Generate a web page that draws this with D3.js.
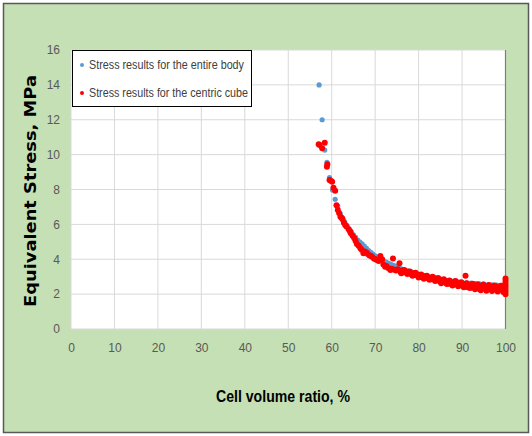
<!DOCTYPE html>
<html>
<head>
<meta charset="utf-8">
<script src="https://cdn.jsdelivr.net/npm/d3@7"></script>
<style>
  body { margin: 0; background: #fff; }
  svg { display: block; }
</style>
</head>
<body>
<svg id="chart" width="532" height="436"></svg>
<script>
// tick values
var xTicks = [0, 10, 20, 30, 40, 50, 60, 70, 80, 90, 100];
var yTicks = [0, 2, 4, 6, 8, 10, 12, 14, 16];

var seriesNames = ['Stress results for the entire body', 'Stress results for the centric cube'];

// entire body (blue)
var bodyX = [57.1, 57.8, 58.4, 58.9, 59.5, 60.2, 60.8, 61.4, 62.0, 62.5, 63.0, 63.5, 64.0, 64.5, 65.0,
  65.5, 66.0, 66.5, 67.0, 67.5, 68.0, 68.5, 69.0, 69.5, 70.0, 70.5, 71.0, 71.5, 72.0, 72.5, 73.0, 73.5,
  74.0, 74.5, 75.0, 75.5, 76.0, 76.5, 77.0, 77.5, 78.0, 78.5, 79.0, 79.5, 80.0, 81, 82, 83, 84, 85, 86,
  87, 88, 89, 90, 91, 92, 93, 94, 95, 96, 97, 98, 99, 100];
var bodyY = [14.0, 12.0, 10.26, 9.56, 8.68, 7.97, 7.44, 7.05, 6.6, 6.35, 6.15, 5.95, 5.75, 5.58, 5.4,
  5.25, 5.1, 4.98, 4.88, 4.75, 4.62, 4.5, 4.4, 4.3, 4.2, 4.12, 4.05, 3.97, 3.9, 3.84, 3.78, 3.72,
  3.67, 3.62, 3.56, 3.5, 3.45, 3.41, 3.37, 3.33, 3.29, 3.25, 3.22, 3.19, 3.15, 3.07, 3.01, 2.96, 2.91, 2.86, 2.82,
  2.78, 2.74, 2.71, 2.68, 2.65, 2.63, 2.61, 2.59, 2.57, 2.55, 2.53, 2.52, 2.5, 2.49];

// centric cube (red)
var cubeX = [57.0, 57.2, 57.8, 58.4, 58.9, 59.0, 59.5, 59.8, 60.1, 60.4, 60.8, 61.1, 61.4, 61.7, 62.0,
  62.3, 62.5, 62.8, 63.1, 63.4, 63.9, 64.2, 64.4, 64.8, 65.2, 65.5, 65.8, 66.2, 66.6, 66.9, 67.3, 67.6,
  68.0, 68.3, 68.7, 69.0, 69.3, 69.7, 70.0, 70.4, 70.8, 71.2, 71.6, 71.9, 72.3, 72.6, 73.0, 73.5, 73.8,
  74.1, 74.4, 74.8, 75.2, 75.6, 75.8, 76.2, 76.5, 76.9, 77.2, 77.6, 78.1, 78.4, 78.8, 79.1, 79.5, 79.8,
  80.1, 80.4, 80.8, 81.1, 81.4, 81.8, 82.1, 82.4, 82.7, 83.0, 83.4, 83.7, 84.0, 84.3, 84.7, 85.0, 85.3,
  85.6, 86.0, 86.3, 86.6, 87.0, 87.3, 87.6, 88.0, 88.3, 88.6, 89.0, 89.3, 89.6, 90.0, 90.3, 90.6, 90.8,
  91.0, 91.3, 91.6, 91.9, 92.2, 92.5, 92.8, 93.1, 93.4, 93.7, 94.0, 94.2, 94.5, 94.8, 95.1, 95.4, 95.7,
  96.0, 96.3, 96.5, 96.8, 97.1, 97.4, 97.7, 98.0, 98.3, 98.6, 98.8, 99.1, 99.3, 99.6, 99.8,
  100, 100, 100, 100, 100, 100, 100,
  76.0, 76.7, 77.4, 78.0, 78.6, 79.3, 80.0, 80.6, 81.2, 81.9, 82.5, 83.2, 83.8, 84.5, 85.2, 85.8,
  86.5, 87.1, 87.8, 88.5, 89.1, 89.8, 90.4, 91.1, 91.8, 92.4, 93.0, 93.6, 94.3, 94.9, 95.6, 96.2,
  96.9, 97.5, 98.2, 98.9, 99.5, 99.9];
var cubeY = [10.6, 10.55, 10.36, 10.68, 9.3, 9.45, 8.54, 8.5, 8.45, 8.1, 7.93, 7.1, 6.82, 6.65, 6.44,
  6.38, 6.29, 6.1, 5.96, 5.88, 5.72, 5.6, 5.49, 5.35, 5.2, 5.05, 4.87, 4.78, 4.63, 4.55, 4.34, 4.45,
  4.38, 4.3, 4.22, 4.2, 4.15, 4.05, 4.02, 3.96, 3.9, 4.18, 4.0, 3.7, 3.57, 3.62, 3.5, 3.38, 3.45,
  4.05, 3.4, 3.35, 3.42, 3.77, 3.29, 3.35, 3.26, 3.3, 3.22, 3.28, 3.19, 3.12, 3.2, 3.1, 3.14, 3.05,
  3.08, 3.0, 3.06, 2.96, 3.02, 2.92, 2.98, 2.9, 2.91, 2.85, 2.95, 2.82, 2.88, 2.78, 2.84, 2.71, 2.8,
  2.7, 2.76, 2.65, 2.72, 2.6, 2.68, 2.62, 2.55, 2.7, 2.58, 2.52, 2.64, 2.56, 2.48, 2.6, 2.45, 3.05,
  2.55, 2.4, 2.52, 2.47, 2.38, 2.55, 2.42, 2.35, 2.5, 2.4, 2.3, 2.45, 2.36, 2.5, 2.32, 2.42, 2.28,
  2.38, 2.46, 2.3, 2.4, 2.26, 2.36, 2.44, 2.3, 2.38, 2.25, 2.33, 2.42, 2.28, 2.36, 2.2,
  2.0, 2.15, 2.3, 2.45, 2.6, 2.75, 2.9,
  3.2, 3.38, 3.15, 3.3, 3.05, 3.22, 2.95, 3.12, 2.88, 3.05, 2.82, 2.99, 2.75, 2.92, 2.62, 2.85,
  2.58, 2.78, 2.5, 2.75, 2.45, 2.68, 2.4, 2.62, 2.35, 2.6, 2.28, 2.56, 2.22, 2.55, 2.2, 2.52,
  2.18, 2.5, 2.15, 2.48, 2.12, 2.55];

var colors = ['#5b9bd5', '#ff0000'];

var svg = d3.select('#chart');
var plot = { left: 71, right: 505.5, top: 50, bottom: 329 };

var x = d3.scaleLinear().domain([0, 100]).range([plot.left, plot.right]);
var y = d3.scaleLinear().domain([0, 16]).range([plot.bottom, plot.top]);

// chart area frame
svg.append('rect')
  .attr('x', 3.5).attr('y', 3.5).attr('width', 525).attr('height', 429)
  .attr('fill', '#c5e0b4').attr('stroke', '#595959').attr('stroke-width', 1.5);

svg.append('rect')
  .attr('x', plot.left).attr('y', plot.top)
  .attr('width', plot.right - plot.left).attr('height', plot.bottom - plot.top)
  .attr('fill', '#fff');

// gridlines
var grid = svg.append('g').attr('class', 'grid');
grid.selectAll('line.v').data(xTicks).enter().append('line')
  .attr('x1', function(d) { return x(d); }).attr('x2', function(d) { return x(d); })
  .attr('y1', plot.top).attr('y2', plot.bottom)
  .attr('stroke', '#d9d9d9').attr('stroke-width', 1);
grid.selectAll('line.h').data(yTicks).enter().append('line')
  .attr('y1', function(d) { return y(d); }).attr('y2', function(d) { return y(d); })
  .attr('x1', plot.left).attr('x2', plot.right)
  .attr('stroke', '#d9d9d9').attr('stroke-width', 1);

// right edge of plot area is darker in the original
svg.append('line')
  .attr('x1', plot.right).attr('x2', plot.right)
  .attr('y1', plot.top).attr('y2', plot.bottom)
  .attr('stroke', '#7f7f7f').attr('stroke-width', 1.2);

// axes (labels only)
var xAxis = svg.append('g')
  .attr('transform', 'translate(0,' + (plot.bottom + 8) + ')')
  .call(d3.axisBottom(x).tickValues(xTicks).tickSize(0).tickPadding(6));
var yAxis = svg.append('g')
  .attr('transform', 'translate(' + (plot.left - 9) + ',0)')
  .call(d3.axisLeft(y).tickValues(yTicks).tickSize(0).tickPadding(2));
[xAxis, yAxis].forEach(function(a) {
  a.select('.domain').remove();
  a.selectAll('text')
    .attr('fill', '#595959')
    .style('font-family', '"Liberation Sans Narrow", "Liberation Sans", sans-serif')
    .style('font-size', '12px');
});

// points
function pts(xs, ys) {
  return xs.map(function(v, i) { return [v, ys[i]]; });
}
svg.append('g').selectAll('circle').data(pts(bodyX, bodyY)).enter().append('circle')
  .attr('cx', function(d) { return x(d[0]); })
  .attr('cy', function(d) { return y(d[1]); })
  .attr('r', 2.6).attr('fill', colors[0]);
svg.append('g').selectAll('circle').data(pts(cubeX, cubeY)).enter().append('circle')
  .attr('cx', function(d) { return x(d[0]); })
  .attr('cy', function(d) { return y(d[1]); })
  .attr('r', 3).attr('fill', colors[1]);

// legend
var legend = svg.append('g').attr('transform', 'translate(72,50)');
legend.append('rect')
  .attr('x', 0.5).attr('y', 0.5).attr('width', 179).attr('height', 56)
  .attr('fill', '#fff').attr('stroke', '#000').attr('stroke-width', 1);
seriesNames.forEach(function(name, i) {
  var ly = 15 + i * 28;
  legend.append('circle').attr('cx', 10).attr('cy', ly).attr('r', 2).attr('fill', colors[i]);
  legend.append('text')
    .attr('x', 17).attr('y', ly + 4)
    .attr('textLength', i ? 159 : 155).attr('lengthAdjust', 'spacingAndGlyphs')
    .attr('fill', '#404040')
    .style('font-family', '"Liberation Sans Narrow", "Liberation Sans", sans-serif')
    .style('font-size', '12px')
    .text(name);
});

// axis titles
svg.append('text')
  .attr('transform', 'translate(36,191) rotate(-90)')
  .attr('text-anchor', 'middle')
  .attr('textLength', 232).attr('lengthAdjust', 'spacingAndGlyphs')
  .attr('fill', '#000')
  .style('font-family', '"DejaVu Sans", sans-serif')
  .style('font-weight', 'bold')
  .style('font-size', '15px')
  .text('Equivalent Stress, MPa');

svg.append('text')
  .attr('x', 283).attr('y', 402)
  .attr('text-anchor', 'middle')
  .attr('textLength', 134).attr('lengthAdjust', 'spacingAndGlyphs')
  .attr('fill', '#000')
  .style('font-family', '"Liberation Sans Narrow", "Liberation Sans", sans-serif')
  .style('font-weight', 'bold')
  .style('font-size', '17px')
  .text('Cell volume ratio, %');
</script>
</body>
</html>
